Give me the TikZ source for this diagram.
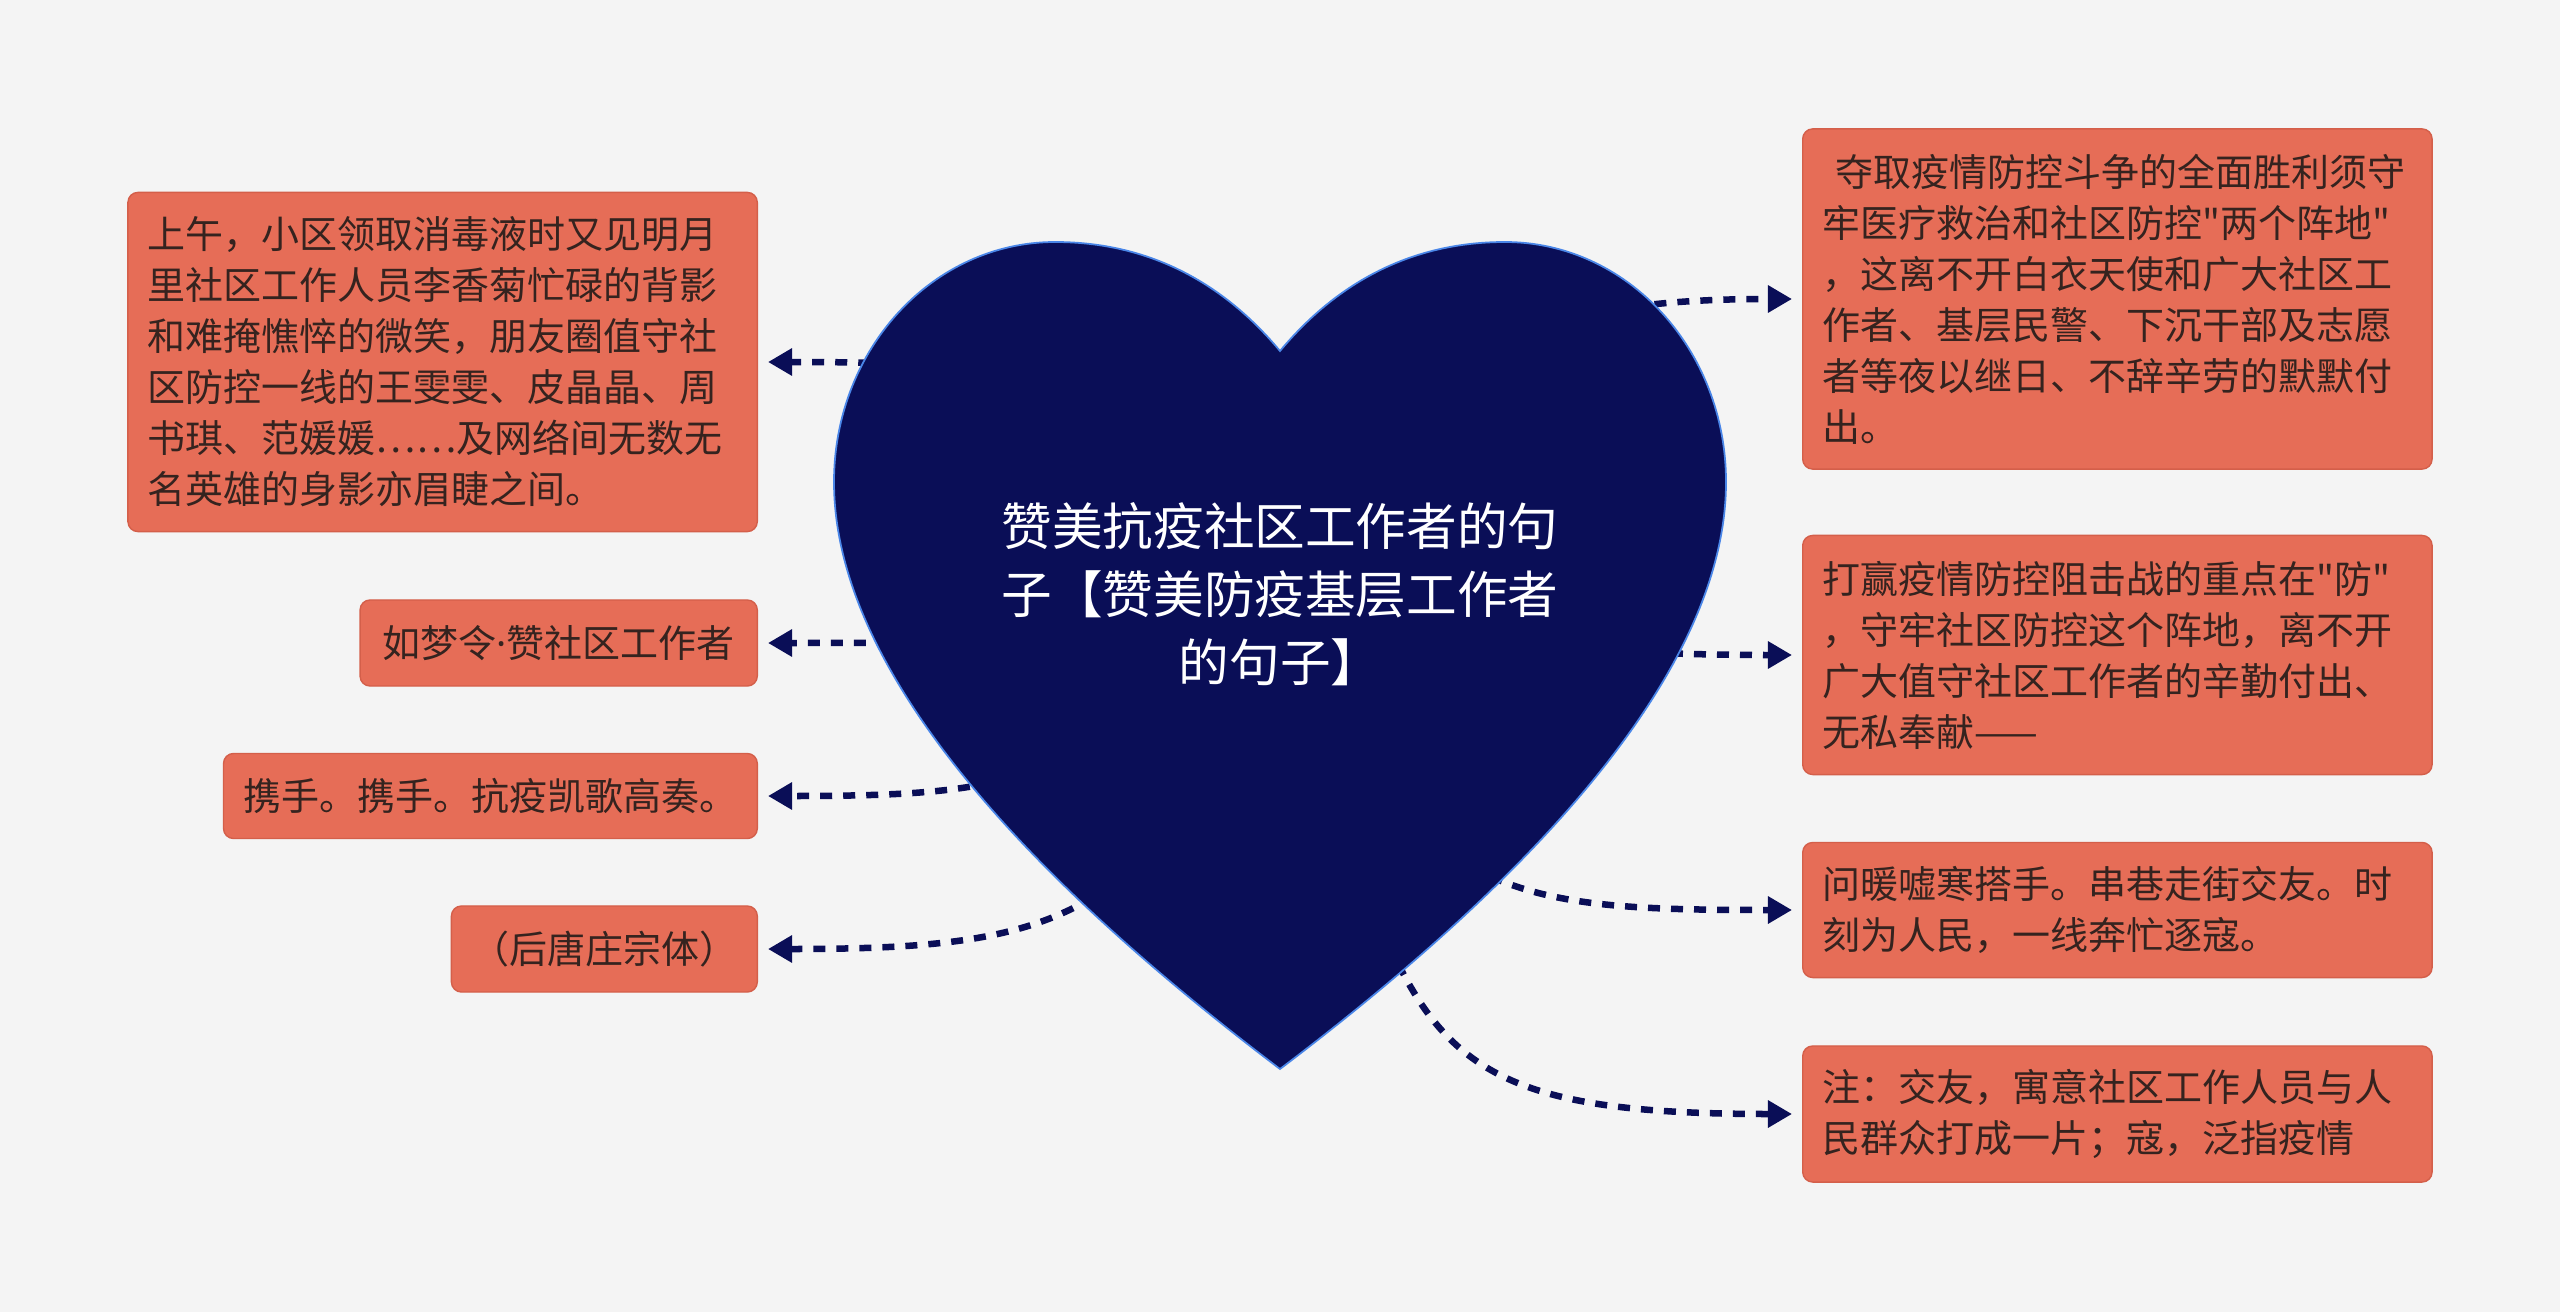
\documentclass[tikz,border=0pt]{standalone}
\usepackage{fontspec}
\setmainfont{Noto Sans CJK SC}[Ligatures=TeXOff]
\newfontfamily\latinfont{Noto Sans}
\usepackage{tikz}
\usetikzlibrary{arrows.meta, positioning}
\definecolor{bgcol}{HTML}{F4F4F4}
\definecolor{leaffill}{HTML}{E66D57}
\definecolor{leafline}{HTML}{D45F4A}
\definecolor{leaftext}{HTML}{35231F}
\definecolor{navy}{HTML}{0A0E57}
\definecolor{heartline}{HTML}{4A86E8}

\begin{document}
\begin{tikzpicture}[
  x=0.01cm, y=-0.01cm,
  leaf/.style={rectangle, rounded corners=0.1cm, fill=leaffill, draw=leafline, line width=0.4pt, text=leaftext, font=\fontsize{10.8pt}{14.5pt}\selectfont, inner xsep=0.2cm, inner ysep=0pt},
  para/.style={leaf, text width=5.89cm, align=left},
  arr/.style={-{Triangle[length=0.24cm, width=0.26cm]}, navy, line width=0.065cm, dash pattern=on 0.12cm off 0.11cm, shorten >=0.1cm}
]
\useasboundingbox (0,0) rectangle (2560,1312);
\fill[bgcol] (0,0) rectangle (2560,1312);

\node[para, minimum height=3.39cm, anchor=east] (L1) at (758,362) {上午，小区领取消毒液时又见明月\\里社区工作人员李香菊忙碌的背影\\和难掩憔悴的微笑，朋友圈值守社\\区防控一线的王雯雯、皮晶晶、周\\书琪、范媛媛……及网络间无数无\\名英雄的身影亦眉睫之间。};
\node[leaf, minimum width=3.97cm, minimum height=0.86cm, anchor=east] (L2) at (758,643) {如梦令{\latinfont ·}赞社区工作者};
\node[leaf, minimum width=5.31cm, minimum height=0.85cm, anchor=east] (L3) at (758,796) {携手。携手。抗疫凯歌高奏。};
\node[leaf, minimum width=3.02cm, minimum height=0.86cm, anchor=east] (L4) at (758,949) {（后唐庄宗体）};

\node[para, minimum height=3.40cm, anchor=west] (R1) at (1802,299) {\ 夺取疫情防控斗争的全面胜利须守\\牢医疗救治和社区防控"两个阵地"\\，这离不开白衣天使和广大社区工\\作者、基层民警、下沉干部及志愿\\者等夜以继日、不辞辛劳的默默付\\出。};
\node[para, minimum height=2.39cm, anchor=west] (R2) at (1802,655) {打赢疫情防控阻击战的重点在"防"\\，守牢社区防控这个阵地，离不开\\广大值守社区工作者的辛勤付出、\\无私奉献——};
\node[para, minimum height=1.35cm, anchor=west] (R3) at (1802,910) {问暖嘘寒搭手。串巷走街交友。时\\刻为人民，一线奔忙逐寇。};
\node[para, minimum height=1.36cm, anchor=west] (R4) at (1802,1114) {注：交友，寓意社区工作人员与人\\民群众打成一片；寇，泛指疫情};

\coordinate (root) at (1280,640);
\draw[arr] (root) to[out=60, in=180, looseness=1.3] (R1.west);
\draw[arr] (root) to[out=0, in=180] (R2.west);
\draw[arr] (root) to[out=-60, in=180, looseness=1.3] (R3.west);
\draw[arr] (root) to[out=-70, in=180, looseness=1.5] (R4.west);
\draw[arr] (root) to[out=120, in=0, looseness=1.3] (L1.east);
\draw[arr] (root) to[out=180, in=0] (L2.east);
\draw[arr] (root) to[out=-150, in=0, looseness=1.3] (L3.east);
\draw[arr] (root) to[out=-115, in=0, looseness=1.3] (L4.east);

\fill[navy, draw=heartline, line width=0.5pt] (1280,351) .. controls (1330,291) and (1402,242) .. (1505,242) .. controls (1627,242) and (1726,349) .. (1726,482) .. controls (1726,690) and (1490,910) .. (1280,1069) .. controls (1070,910) and (834,690) .. (834,482) .. controls (834,349) and (933,242) .. (1055,242) .. controls (1158,242) and (1230,291) .. (1280,351) -- cycle;
\node[text=white, align=center, font=\fontsize{14.4pt}{19.4pt}\selectfont] (title) at (1280,594) {赞美抗疫社区工作者的句\\子【赞美防疫基层工作者\\的句子】};
\end{tikzpicture}
\end{document}
